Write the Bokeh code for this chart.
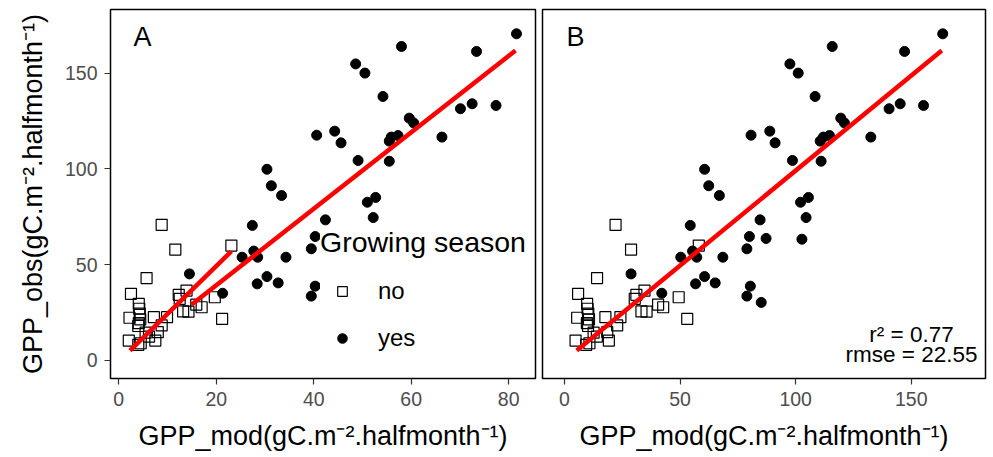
from bokeh.plotting import figure
from bokeh.layouts import row
from bokeh.models import Range1d, FixedTicker, Legend, LegendItem, Label, ColumnDataSource
from bokeh.embed import file_html
from bokeh.resources import INLINE

# ---------------- data ----------------
# Not growing season ("no"): observed GPP, modelled GPP (panel A), modelled GPP (panel B)
no_obs   = [70.8, 57.9, 60.0, 43.0, 34.8, 29.5, 27.0, 24.5, 22.3, 22.6, 22.6, 21.5, 18.0, 18.3, 14.8, 14.5,
            10.4, 8.2, 10.4, 12.5, 36.5, 34.3, 32.2, 25.6, 29.2, 27.8, 33.0, 21.7, 25.5, 9.0, 19.5]
no_mod_a = [8.8, 11.6, 23.1, 5.7, 2.5, 4.1, 4.2, 4.3, 2.2, 7.2, 9.9, 4.4, 4.0, 8.8, 8.0, 5.5,
            2.05, 4.0, 7.5, 6.2, 13.9, 12.3, 12.5, 13.2, 15.9, 17.0, 19.7, 21.2, 14.3, 4.5, 4.1]
no_mod_b = [22.1, 28.8, 58.1, 14.1, 5.9, 9.8, 10.0, 10.3, 5.5, 17.7, 24.2, 10.6, 10.2, 22.8, 18.5, 12.6,
            4.8, 9.4, 19.2, 14.0, 34.6, 31.1, 30.4, 33.3, 40.5, 42.7, 49.4, 53.1, 35.5, 10.8, 9.7]

# Growing season ("yes")
yes_obs   = [170.5, 163.9, 161.3, 154.8, 150.0, 137.8, 131.4, 134.0, 133.1, 126.5, 124.0, 117.6, 119.7,
             113.6, 114.5, 116.6, 117.4, 116.6, 104.4, 104.0, 99.8, 91.2, 86.1, 82.6, 85.1, 74.6, 73.4,
             70.5, 64.7, 63.7, 63.3, 58.3, 57.1, 53.9, 53.9, 53.9, 45.2, 43.8, 40.0, 40.5, 38.8, 33.6,
             35.1, 30.3]
yes_mod_a = [81.6, 58.0, 73.4, 48.6, 50.5, 54.2, 70.1, 72.5, 77.4, 59.6, 60.5, 40.6, 44.3,
             45.6, 55.5, 55.9, 57.3, 66.3, 49.1, 55.5, 30.4, 31.3, 33.4, 51.0, 52.7, 52.2, 42.4,
             27.4, 40.3, 43.6, 51.3, 39.5, 27.7, 25.3, 28.5, 34.3, 14.5, 30.4, 28.4, 32.7, 40.3, 39.5,
             21.3, 42.5]
yes_mod_b = [163.6, 115.8, 147.1, 97.5, 101.1, 108.4, 140.4, 145.2, 155.3, 119.5, 121.1, 80.7, 88.8,
             91.1, 110.6, 112.0, 114.6, 132.5, 98.6, 111.0, 60.6, 62.4, 67.0, 102.1, 105.5, 104.5, 84.6,
             54.4, 80.0, 87.2, 102.7, 78.9, 55.4, 50.3, 57.2, 68.5, 28.8, 60.6, 56.7, 65.2, 80.4, 78.9,
             42.1, 85.1]

# fitted regression lines (end points)
fit_a_no_x  = [2.3, 23.1]
fit_a_no_y  = [5.2, 57.0]
fit_a_yes_x = [14.9, 81.4]
fit_a_yes_y = [29.1, 161.8]
fit_b_x     = [5.3, 163.2]
fit_b_y     = [5.2, 161.8]

x_ticks_a = [0, 20, 40, 60, 80]
x_ticks_b = [0, 50, 100, 150]
y_ticks   = [0, 50, 100, 150]

stats_text = ["r\u00b2 = 0.77", "rmse = 22.55"]
x_title = "GPP_mod(gC.m\u207b\u00b2.halfmonth\u207b\u00b9)"
y_title = "GPP_obs(gC.m\u207b\u00b2.halfmonth\u207b\u00b9)"

FONT = "Liberation Sans"
RED = "#FF0000"


def style(p, xticks):
    p.xgrid.visible = False
    p.ygrid.visible = False
    p.outline_line_color = "black"
    p.outline_line_width = 1.5
    p.outline_line_alpha = 1.0
    p.background_fill_color = "white"
    p.border_fill_color = "white"
    p.xaxis.ticker = FixedTicker(ticks=xticks)
    for ax in p.axis:
        ax.axis_line_color = None
        ax.major_tick_line_color = "#333333"
        ax.major_tick_line_width = 1.2
        ax.major_tick_out = 6
        ax.major_tick_in = 0
        ax.minor_tick_line_color = None
        ax.major_label_text_font = FONT
        ax.major_label_text_font_size = "19.5px"
        ax.major_label_text_color = "#4D4D4D"
        ax.major_label_standoff = 7
        ax.axis_label_text_font = FONT
        ax.axis_label_text_font_size = "27px"
        ax.axis_label_text_font_style = "normal"
        ax.axis_label_text_color = "black"
        ax.axis_label_standoff = 12


# ---------------- panel A ----------------
p1 = figure(frame_width=425, frame_height=369,
            min_border_left=110, min_border_right=3, min_border_top=9, min_border_bottom=79,
            x_range=Range1d(-1.7, 85.5), y_range=Range1d(-9.4, 183.2),
            output_backend="svg", toolbar_location=None)
style(p1, x_ticks_a)
p1.yaxis.ticker = FixedTicker(ticks=y_ticks)
p1.xaxis.axis_label = x_title
p1.yaxis.axis_label = y_title
p1.yaxis.axis_label_standoff = 14

src_no_a = ColumnDataSource(dict(x=no_mod_a, y=no_obs))
src_yes_a = ColumnDataSource(dict(x=yes_mod_a, y=yes_obs))
r_no = p1.scatter("x", "y", source=src_no_a, marker="square", size=11,
                  fill_color=None, line_color="black", line_width=1.2)
r_yes = p1.scatter("x", "y", source=src_yes_a, marker="circle", size=10,
                   fill_color="black", line_color="black")
p1.line(fit_a_no_x, fit_a_no_y, line_color=RED, line_width=4.5)
p1.line(fit_a_yes_x, fit_a_yes_y, line_color=RED, line_width=4.5)

legend = Legend(items=[LegendItem(label="no", renderers=[r_no]),
                       LegendItem(label="yes", renderers=[r_yes])],
                title="Growing season", location=(210, 26),
                title_text_font=FONT, title_text_font_size="28.5px", title_text_font_style="normal",
                title_text_color="black", title_standoff=18,
                label_text_font=FONT, label_text_font_size="24px", label_text_color="black",
                glyph_width=44, glyph_height=24, label_height=24, label_standoff=14,
                spacing=19, padding=5, margin=0,
                background_fill_color="white", background_fill_alpha=1.0,
                border_line_color=None)
p1.add_layout(legend, "center")

p1.add_layout(Label(x=3, y=168.6, text="A", text_font=FONT, text_font_size="27px",
                    text_align="left", text_baseline="middle", text_color="black"))

# ---------------- panel B ----------------
p2 = figure(frame_width=443, frame_height=369,
            min_border_left=4, min_border_right=8, min_border_top=9, min_border_bottom=79,
            x_range=Range1d(-9.5, 182.1), y_range=Range1d(-9.4, 183.2),
            y_axis_location=None,
            output_backend="svg", toolbar_location=None)
style(p2, x_ticks_b)
p2.xaxis.axis_label = x_title

src_no_b = ColumnDataSource(dict(x=no_mod_b, y=no_obs))
src_yes_b = ColumnDataSource(dict(x=yes_mod_b, y=yes_obs))
p2.scatter("x", "y", source=src_no_b, marker="square", size=11,
           fill_color=None, line_color="black", line_width=1.2)
p2.scatter("x", "y", source=src_yes_b, marker="circle", size=10,
           fill_color="black", line_color="black")
p2.line(fit_b_x, fit_b_y, line_color=RED, line_width=4.5)

p2.add_layout(Label(x=0.9, y=168.6, text="B", text_font=FONT, text_font_size="27px",
                    text_align="left", text_baseline="middle", text_color="black"))
p2.add_layout(Label(x=150.1, y=13.8, text=stats_text[0], text_font=FONT, text_font_size="22.5px",
                    text_align="center", text_baseline="middle", text_color="black"))
p2.add_layout(Label(x=150.1, y=2.9, text=stats_text[1], text_font=FONT, text_font_size="22.5px",
                    text_align="center", text_baseline="middle", text_color="black"))

layout = row(p1, p2)
open("out.html", "w").write(file_html(layout, INLINE))
